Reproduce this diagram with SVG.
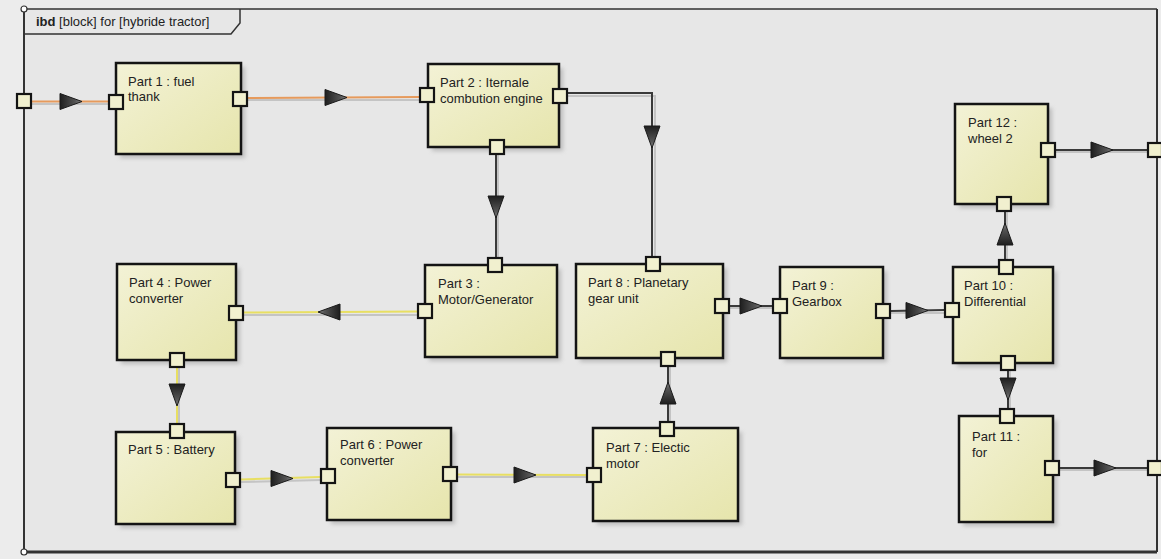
<svg xmlns="http://www.w3.org/2000/svg" xmlns:xlink="http://www.w3.org/1999/xlink" width="1161" height="559" viewBox="0 0 1161 559">
<defs>
<linearGradient id="boxg" x1="0" y1="0" x2="1" y2="1">
<stop offset="0" stop-color="#f3f2d6"/>
<stop offset="1" stop-color="#e6e5ac"/>
</linearGradient>
<linearGradient id="arrg" x1="0" y1="0" x2="1" y2="0">
<stop offset="0" stop-color="#1e1e1e"/>
<stop offset="0.7" stop-color="#555"/>
<stop offset="1" stop-color="#8a8a8a"/>
</linearGradient>
<filter id="sh" x="-10%" y="-10%" width="130%" height="130%">
<feGaussianBlur stdDeviation="2"/>
</filter>
<path id="arr" d="M0,0 L-22,-8 L-22,8 Z" fill="url(#arrg)" stroke="#1a1a1a" stroke-width="1"/>
<style>
.box{fill:url(#boxg);stroke:#141414;stroke-width:2.5}
.shd{fill:#9a9a9a;opacity:0.55;filter:url(#sh)}
.port{fill:#f1f0cf;stroke:#141414;stroke-width:2.2}
.t{font-family:"Liberation Sans",Arial,sans-serif;font-size:13px;fill:#222}
.hdr{font-family:"Liberation Sans",Arial,sans-serif;font-size:13px;fill:#222}
.ln{fill:none;stroke-width:2}
.sl{fill:none;stroke:#c4c4c4;stroke-width:2}
.fuel{stroke:#e69a5c}
.elec{stroke:#e8df62}
.mech{stroke:#3a3a3a}
</style>
</defs>
<rect x="0" y="0" width="1161" height="559" fill="#ececec"/>
<g id="frame">
<rect x="24" y="9" width="1133" height="542" fill="#e7e7e7"/>
<line x1="24" y1="9" x2="1157" y2="9" stroke="#333" stroke-width="1.5"/>
<line x1="24" y1="9" x2="24" y2="552" stroke="#333" stroke-width="2"/>
<line x1="1157" y1="9" x2="1157" y2="552" stroke="#333" stroke-width="2"/>
<line x1="24" y1="552" x2="1157" y2="552" stroke="#333" stroke-width="3"/>
<path d="M24,34 L231,34 L240,23 L240,9" fill="none" stroke="#333" stroke-width="1.5"/>
<circle cx="24" cy="9" r="3" fill="#fff" stroke="#333" stroke-width="1.2"/>
<circle cx="24" cy="552" r="3" fill="#fff" stroke="#333" stroke-width="1.2"/>
<text class="hdr" x="36" y="26"><tspan font-weight="bold">ibd</tspan> [block] for [hybride tractor]</text>
</g>
<g id="connectors">
<path class="sl" d="M32,104 L110,104"/>
<path class="sl" d="M248,100 L420,100"/>
<path class="sl" d="M567,96 L655,96 L655,257"/>
<path class="sl" d="M498,155 L498,258"/>
<path class="sl" d="M244,315 L418,315"/>
<path class="sl" d="M179,368 L179,424"/>
<path class="sl" d="M241,482 L321,480"/>
<path class="sl" d="M458,477 L587,477"/>
<path class="sl" d="M670,422 L670,367"/>
<path class="sl" d="M730,308 L773,308"/>
<path class="sl" d="M891,313 L945,313"/>
<path class="sl" d="M1007,259 L1007,212"/>
<path class="sl" d="M1010,371 L1010,409"/>
<path class="sl" d="M1056,152 L1148,152"/>
<path class="sl" d="M1060,470 L1148,470"/>
<path class="ln fuel" d="M32,101.5 L109,101.5"/>
<path class="ln fuel" d="M248,98 L419,97"/>
<path class="ln mech" d="M567,93 L652,93 L652,257"/>
<path class="ln mech" d="M496,155 L496,257"/>
<path class="ln elec" d="M244,312.5 L417,311.5"/>
<path class="ln elec" d="M177,368 L177,423"/>
<path class="ln elec" d="M241,479.5 L320,477"/>
<path class="ln elec" d="M458,474.5 L586,475"/>
<path class="ln mech" d="M668,422 L668,366"/>
<path class="ln mech" d="M730,306 L772,306"/>
<path class="ln mech" d="M891,311 L944,310"/>
<path class="ln mech" d="M1005,259 L1005,212"/>
<path class="ln mech" d="M1008,371 L1008,408"/>
<path class="ln mech" d="M1056,150 L1148,150"/>
<path class="ln mech" d="M1060,468 L1148,468"/>
<use xlink:href="#arr" transform="translate(82,101.5)"/>
<use xlink:href="#arr" transform="translate(347,97.5)"/>
<use xlink:href="#arr" transform="translate(652,148) rotate(90)"/>
<use xlink:href="#arr" transform="translate(496,218) rotate(90)"/>
<use xlink:href="#arr" transform="translate(318,312) rotate(180)"/>
<use xlink:href="#arr" transform="translate(177,406) rotate(90)"/>
<use xlink:href="#arr" transform="translate(293,478.5)"/>
<use xlink:href="#arr" transform="translate(536,475)"/>
<use xlink:href="#arr" transform="translate(668,382) rotate(-90)"/>
<use xlink:href="#arr" transform="translate(762,306)"/>
<use xlink:href="#arr" transform="translate(928,310.5)"/>
<use xlink:href="#arr" transform="translate(1005,223) rotate(-90)"/>
<use xlink:href="#arr" transform="translate(1008,400) rotate(90)"/>
<use xlink:href="#arr" transform="translate(1113,150)"/>
<use xlink:href="#arr" transform="translate(1116,468)"/>
</g>
<g id="frame-ports">
<rect class="port" x="17" y="94" width="14" height="14"/>
<rect class="port" x="1148" y="143" width="14" height="14"/>
<rect class="port" x="1148" y="461" width="14" height="14"/>
</g>
<g id="part1">
<rect class="shd" x="120" y="67" width="125" height="91"/>
<rect class="box" x="116" y="63" width="125" height="91"/>
<text class="t" x="128" y="86">Part 1 : fuel</text>
<text class="t" x="128" y="101">thank</text>
<rect class="port" x="109" y="95" width="14" height="14"/>
<rect class="port" x="233" y="92" width="14" height="14"/>
</g>
<g id="part2">
<rect class="shd" x="432" y="68" width="131" height="83"/>
<rect class="box" x="428" y="64" width="131" height="83"/>
<text class="t" x="440" y="87">Part 2 : Iternale</text>
<text class="t" x="440" y="103">combution engine</text>
<rect class="port" x="420" y="88" width="14" height="14"/>
<rect class="port" x="553" y="89" width="14" height="14"/>
<rect class="port" x="490" y="140" width="14" height="14"/>
</g>
<g id="part3">
<rect class="shd" x="429" y="269" width="132" height="92"/>
<rect class="box" x="425" y="265" width="132" height="92"/>
<text class="t" x="438" y="288">Part 3 :</text>
<text class="t" x="438" y="304">Motor/Generator</text>
<rect class="port" x="488" y="258" width="14" height="14"/>
<rect class="port" x="418" y="304" width="14" height="14"/>
</g>
<g id="part4">
<rect class="shd" x="121" y="268" width="119" height="96"/>
<rect class="box" x="117" y="264" width="119" height="96"/>
<text class="t" x="129" y="287">Part 4 : Power</text>
<text class="t" x="129" y="303">converter</text>
<rect class="port" x="229" y="306" width="14" height="14"/>
<rect class="port" x="170" y="353" width="14" height="14"/>
</g>
<g id="part5">
<rect class="shd" x="120" y="436" width="119" height="92"/>
<rect class="box" x="116" y="432" width="119" height="92"/>
<text class="t" x="128" y="454">Part 5 : Battery</text>
<rect class="port" x="170" y="424" width="14" height="14"/>
<rect class="port" x="226" y="473" width="14" height="14"/>
</g>
<g id="part6">
<rect class="shd" x="331" y="432" width="124" height="92"/>
<rect class="box" x="327" y="428" width="124" height="92"/>
<text class="t" x="340" y="449">Part 6 : Power</text>
<text class="t" x="340" y="465">converter</text>
<rect class="port" x="321" y="469" width="14" height="14"/>
<rect class="port" x="443" y="467" width="14" height="14"/>
</g>
<g id="part7">
<rect class="shd" x="597" y="432" width="145" height="93"/>
<rect class="box" x="593" y="428" width="145" height="93"/>
<text class="t" x="606" y="452">Part 7 : Electic</text>
<text class="t" x="606" y="468">motor</text>
<rect class="port" x="587" y="468" width="14" height="14"/>
<rect class="port" x="660" y="422" width="14" height="14"/>
</g>
<g id="part8">
<rect class="shd" x="580" y="268" width="147" height="94"/>
<rect class="box" x="576" y="264" width="147" height="94"/>
<text class="t" x="588" y="287">Part 8 : Planetary</text>
<text class="t" x="588" y="303">gear unit</text>
<rect class="port" x="646" y="257" width="14" height="14"/>
<rect class="port" x="715" y="299" width="14" height="14"/>
<rect class="port" x="661" y="352" width="14" height="14"/>
</g>
<g id="part9">
<rect class="shd" x="784" y="271" width="103" height="91"/>
<rect class="box" x="780" y="267" width="103" height="91"/>
<text class="t" x="792" y="290">Part 9 :</text>
<text class="t" x="792" y="306">Gearbox</text>
<rect class="port" x="773" y="299" width="14" height="14"/>
<rect class="port" x="876" y="304" width="14" height="14"/>
</g>
<g id="part10">
<rect class="shd" x="957" y="271" width="100" height="96"/>
<rect class="box" x="953" y="267" width="100" height="96"/>
<text class="t" x="964" y="290">Part 10 :</text>
<text class="t" x="964" y="306">Differential</text>
<rect class="port" x="999" y="260" width="14" height="14"/>
<rect class="port" x="945" y="303" width="14" height="14"/>
<rect class="port" x="1001" y="356" width="14" height="14"/>
</g>
<g id="part11">
<rect class="shd" x="963" y="420" width="94" height="106"/>
<rect class="box" x="959" y="416" width="94" height="106"/>
<text class="t" x="972" y="441">Part 11 :</text>
<text class="t" x="972" y="457">for</text>
<rect class="port" x="1000" y="409" width="14" height="14"/>
<rect class="port" x="1045" y="461" width="14" height="14"/>
</g>
<g id="part12">
<rect class="shd" x="959" y="108" width="93" height="100"/>
<rect class="box" x="955" y="104" width="93" height="100"/>
<text class="t" x="968" y="127">Part 12 :</text>
<text class="t" x="968" y="143">wheel 2</text>
<rect class="port" x="1041" y="143" width="14" height="14"/>
<rect class="port" x="997" y="197" width="14" height="14"/>
</g>
</svg>
